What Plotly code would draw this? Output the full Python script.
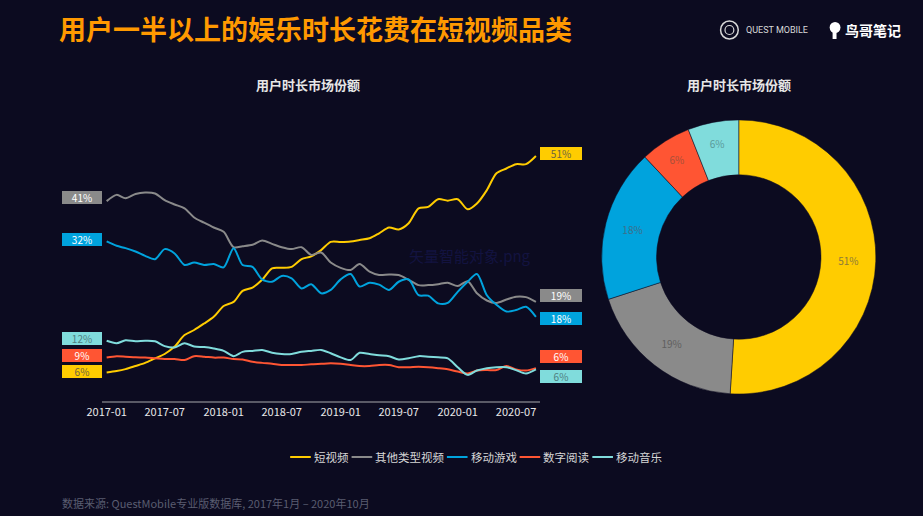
import plotly.graph_objects as go

W, H = 923, 516
BG = "#0c0b20"
FONT = "Noto Sans CJK SC"

# ---------------- data ----------------
months = [f"{y}-{m:02d}" for y in range(2017, 2021) for m in range(1, 13)][:45]
tick_vals = ["2017-01", "2017-07", "2018-01", "2018-07", "2019-01", "2019-07", "2020-01", "2020-07"]

series_names = ["短视频", "其他类型视频", "移动游戏", "数字阅读", "移动音乐"]
series_colors = ["#FFCC00", "#8A8A8A", "#00A3DD", "#FF5533", "#80DCDC"]

short_video = [5.9, 6.2, 6.6, 7.25, 7.9, 8.85, 9.75, 11.3, 13.7, 14.75, 16.1, 17.5, 19.75, 20.6, 22.9,
               23.6, 25.2, 27.6, 27.7, 27.9, 29.5, 30.1, 31.4, 33.1, 33.1, 33.2, 33.5, 33.85, 34.9, 36.1,
               35.7, 37.0, 40.1, 40.4, 42.0, 41.7, 42.0, 39.9, 41.1, 43.9, 47.4, 48.4, 49.3, 49.3, 51.0]
other_video = [41.6, 42.9, 42.2, 43.1, 43.4, 43.2, 41.8, 40.9, 40.1, 38.2, 37.1, 36.1, 35.2, 32.0, 32.2,
               32.5, 33.4, 32.7, 32.0, 31.6, 32.0, 30.4, 30.9, 28.8, 27.7, 27.25, 28.5, 26.9, 26.2, 26.3,
               26.2, 25.2, 24.1, 24.1, 24.3, 24.6, 23.9, 24.9, 22.4, 20.9, 20.4, 21.1, 21.7, 21.6, 20.6]
mobile_game = [33.2, 32.3, 31.8, 31.1, 30.2, 29.5, 31.6, 30.7, 28.3, 28.8, 28.3, 28.5, 27.8, 31.8, 28.3,
               27.9, 25.3, 24.8, 26.0, 25.5, 23.4, 24.3, 22.4, 23.1, 25.3, 26.4, 23.8, 24.6, 24.2, 23.1,
               24.8, 25.3, 22.0, 21.9, 20.3, 20.4, 22.7, 24.8, 26.4, 22.0, 20.0, 18.6, 18.9, 19.6, 17.5]
reading = [9.0, 9.3, 9.2, 9.05, 9.0, 8.85, 8.7, 8.7, 8.5, 9.3, 9.2, 9.0, 9.0, 8.7, 8.6,
           8.15, 7.9, 7.7, 7.45, 7.45, 7.45, 7.6, 7.7, 7.8, 7.7, 7.45, 7.25, 7.25, 7.45, 7.45,
           7.0, 7.0, 7.1, 7.0, 6.8, 6.55, 6.1, 5.7, 6.3, 6.4, 6.4, 7.25, 6.55, 6.3, 6.8]
music = [12.5, 12.0, 12.6, 12.4, 12.5, 12.4, 11.4, 11.1, 12.0, 11.3, 11.2, 10.9, 10.4, 9.3, 10.2,
         10.4, 10.6, 10.0, 9.75, 9.75, 10.2, 10.4, 10.6, 9.9, 9.05, 8.5, 10.0, 9.75, 9.5, 9.3,
         8.6, 8.85, 9.3, 9.2, 9.05, 8.85, 7.0, 5.4, 6.3, 6.8, 7.0, 7.0, 6.4, 5.7, 6.55]

start_labels = ["6%", "41%", "32%", "9%", "12%"]
end_labels = ["51%", "19%", "18%", "6%", "6%"]

pie_values = [51, 19, 18, 6, 6]
pie_text = ["51%", "19%", "18%", "6%", "6%"]

title_text = "用户一半以上的娱乐时长花费在短视频品类"
subtitle_text = "用户时长市场份额"
source_text = "数据来源: QuestMobile专业版数据库, 2017年1月 – 2020年10月"

all_series = [short_video, other_video, mobile_game, reading, music]

# ---------------- figure ----------------
fig = go.Figure()

for name, color, vals in zip(series_names, series_colors, all_series):
    fig.add_trace(go.Scatter(
        x=months, y=vals, name=name, mode="lines",
        line=dict(color=color, width=2, shape="spline", smoothing=0.8),
        hoverinfo="skip", showlegend=False,
    ))

fig.add_trace(go.Pie(
    values=pie_values, labels=series_names, text=pie_text, textinfo="text",
    marker=dict(colors=series_colors, line=dict(color=BG, width=0.5)),
    hole=0.6, sort=False, direction="clockwise", rotation=0,
    showlegend=False, textposition="inside", insidetextorientation="horizontal",
    insidetextfont=dict(family=FONT, size=10,
                        color=["#8c7a3a", "#5f5f5f", "#3d6f8a", "#a8503a", "#5a9a9a"]),
    domain=dict(x=[596 / W, 875 / W], y=[(H - 396.7) / H, (H - 117.3) / H]),
    hoverinfo="skip",
))

px = lambda p: p / W
py = lambda p: (H - p) / H

annotations = []
annotations.append(dict(text=f"<b>{title_text}</b>", x=px(42), y=py(29), xref="paper", yref="paper",
                        xanchor="left", yanchor="middle", showarrow=False,
                        font=dict(family=FONT, size=27, color="#FF9900")))
for cx in (297.5, 735.5):
    annotations.append(dict(text=f"<b>{subtitle_text}</b>", x=px(cx), y=py(85), xref="paper", yref="paper",
                            xanchor="center", yanchor="middle", showarrow=False,
                            font=dict(family=FONT, size=13, color="#e6e6e6")))
annotations.append(dict(text="QUEST MOBILE", x=px(741), y=py(30.5), xref="paper", yref="paper",
                        xanchor="left", yanchor="middle", showarrow=False,
                        font=dict(family="Roboto", size=9, color="#d8d8d8")))
annotations.append(dict(text="<b>鸟哥笔记</b>", x=px(842), y=py(30), xref="paper", yref="paper",
                        xanchor="left", yanchor="middle", showarrow=False,
                        font=dict(family=FONT, size=14, color="#ffffff")))
annotations.append(dict(text="矢量智能对象.png", x=px(462), y=py(255), xref="paper", yref="paper",
                        xanchor="center", yanchor="middle", showarrow=False,
                        font=dict(family=FONT, size=15, color="#131340")))
annotations.append(dict(text=source_text, x=px(45), y=py(503), xref="paper", yref="paper",
                        xanchor="left", yanchor="middle", showarrow=False,
                        font=dict(family=FONT, size=11, color="#5a5d70")))

label_text_colors = ["#6e6440", "#ffffff", "#ffffff", "#ffffff", "#4f7f80"]
start_shift = [1, 4, 2, 2.4, 2.5]
end_shift = [3, 6, -2, 12, -7]
for i, vals in enumerate(all_series):
    annotations.append(dict(text=start_labels[i], x=px(66.7), y=vals[0], xref="paper", yref="y",
                            yshift=start_shift[i], xanchor="center", yanchor="middle", showarrow=False,
                            bgcolor=series_colors[i], bordercolor=series_colors[i], borderwidth=1,
                            borderpad=1, width=36, height=9,
                            font=dict(family=FONT, size=10, color=label_text_colors[i])))
    annotations.append(dict(text=end_labels[i], x=px(554.5), y=vals[-1], xref="paper", yref="y",
                            yshift=end_shift[i], xanchor="center", yanchor="middle", showarrow=False,
                            bgcolor=series_colors[i], bordercolor=series_colors[i], borderwidth=1,
                            borderpad=1, width=38, height=9,
                            font=dict(family=FONT, size=10, color=label_text_colors[i])))

shapes = [
    dict(type="circle", xref="paper", yref="paper", x0=px(717), x1=px(735), y0=py(39), y1=py(21),
         line=dict(color="#d8d8d8", width=1.5)),
    dict(type="circle", xref="paper", yref="paper", x0=px(721.5), x1=px(730.5), y0=py(34.5), y1=py(25.5),
         line=dict(color="#d8d8d8", width=1.2)),
    dict(type="circle", xref="paper", yref="paper", x0=px(828), x1=px(839), y0=py(33), y1=py(22),
         fillcolor="#ffffff", line=dict(width=0)),
    dict(type="rect", xref="paper", yref="paper", x0=px(831), x1=px(835), y0=py(39), y1=py(32),
         fillcolor="#ffffff", line=dict(width=0)),
]

# compact legend (line sample + text), built from the series names/colours
lx = 279.0
for name, color in zip(series_names, series_colors):
    shapes.append(dict(type="line", xref="paper", yref="paper", x0=px(lx), x1=px(lx + 21),
                       y0=py(457), y1=py(457), line=dict(color=color, width=2)))
    annotations.append(dict(text=name, x=px(lx + 22), y=py(457), xref="paper", yref="paper",
                            xanchor="left", yanchor="middle", showarrow=False,
                            font=dict(family=FONT, size=11.5, color="#d6d6d6")))
    lx += 21 + 3 + 11.5 * len(name) + 4

fig.update_layout(
    width=W, height=H,
    paper_bgcolor=BG, plot_bgcolor=BG,
    margin=dict(l=0, r=0, t=0, b=0),
    font=dict(family=FONT, color="#dddddd"),
    showlegend=False,
    xaxis=dict(domain=[88 / W, 533 / W], type="date", range=["2016-12-19", "2020-09-13"],
               tickvals=tick_vals, ticktext=tick_vals, showgrid=False, zeroline=False,
               showline=True, linecolor="#5a5a66", linewidth=1.5, ticks="",
               tickfont=dict(family=FONT, size=11, color="#e8e8e8"), fixedrange=True),
    yaxis=dict(domain=[(H - 400.8) / H, (H - 141.6) / H], range=[0, 54], visible=False, fixedrange=True),
    annotations=annotations,
    shapes=shapes,
)

fig.write_html("out.html")
